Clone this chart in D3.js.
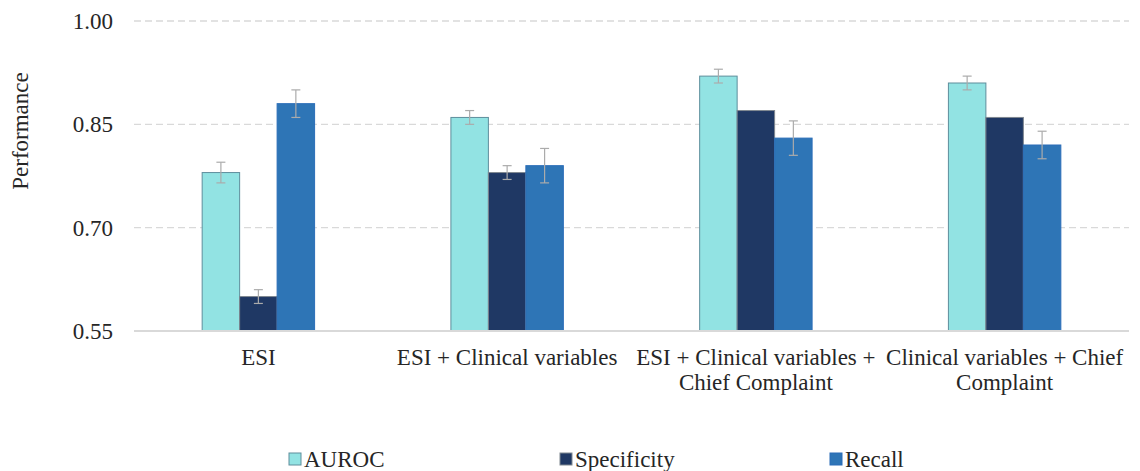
<!DOCTYPE html>
<html>
<head>
<meta charset="utf-8">
<script src="https://cdn.jsdelivr.net/npm/d3@7"></script>
<style>
  html, body { margin: 0; padding: 0; background: #ffffff; }
  svg { display: block; }
  svg text { font-family: "Liberation Serif", "Times New Roman", Tinos, "DejaVu Serif", serif; }
</style>
</head>
<body>
<svg id="chart" width="1140" height="471"></svg>
<script>
// Model feature sets
const categories = [
  "ESI",
  "ESI + Clinical variables",
  "ESI + Clinical variables + Chief Complaint",
  "Clinical variables + Chief Complaint"
];
// Wrapped label lines for each feature set
const categoryLines = [
  ["ESI"],
  ["ESI + Clinical variables"],
  ["ESI + Clinical variables +", "Chief Complaint"],
  ["Clinical variables + Chief", "Complaint"]
];

const seriesNames = ["AUROC", "Specificity", "Recall"];

// Metric values per feature set
const auroc       = [0.78, 0.86, 0.92, 0.91];
const specificity = [0.60, 0.78, 0.87, 0.86];
const recall      = [0.88, 0.79, 0.83, 0.82];

// Half-width of the error bars
const aurocErr       = [0.015, 0.010, 0.010, 0.010];
const specificityErr = [0.010, 0.010, 0.000, 0.000];
const recallErr      = [0.020, 0.025, 0.025, 0.020];

const yTicks = [0.55, 0.70, 0.85, 1.00];

const seriesValues = [auroc, specificity, recall];
const seriesErrors = [aurocErr, specificityErr, recallErr];
const fills   = ["#92E3E3", "#1F3864", "#2E75B6"];
const strokes = ["#5E8E9C", "#7F8790", "#2A6DB8"];

const FONT = "'Liberation Serif', 'Times New Roman', Tinos, 'DejaVu Serif', serif";
const FONT_SIZE = 23;

const svg = d3.select("#chart");

const x0 = d3.scaleBand()
  .domain(categories)
  .range([134, 1129])
  .paddingInner(0)
  .paddingOuter(0);

const groupWidth = x0.bandwidth() * 0.452;
const x1 = d3.scaleBand()
  .domain(seriesNames)
  .range([0, groupWidth])
  .padding(0);

const y = d3.scaleLinear()
  .domain([0.55, 1.00])
  .range([331, 21]);

// Dashed horizontal gridlines
svg.append("g")
  .selectAll("line")
  .data(yTicks.filter(t => t > 0.55))
  .join("line")
  .attr("x1", x0.range()[0])
  .attr("x2", x0.range()[1])
  .attr("y1", d => y(d))
  .attr("y2", d => y(d))
  .attr("stroke", "#D9D9D9")
  .attr("stroke-width", 1.3)
  .attr("stroke-dasharray", "7,4");

// Y-axis tick labels
const yAxis = d3.axisLeft(y)
  .tickValues(yTicks)
  .tickFormat(d3.format(".2f"))
  .tickSize(0)
  .tickPadding(0);

svg.append("g")
  .attr("transform", "translate(113,0)")
  .call(yAxis)
  .attr("font-family", FONT)
  .attr("font-size", FONT_SIZE)
  .call(g => g.select(".domain").remove())
  .call(g => g.selectAll("text")
    .attr("fill", "#262626"));

// Y-axis title
svg.append("text")
  .attr("transform", "translate(28,131) rotate(-90)")
  .attr("text-anchor", "middle")
  .attr("font-family", FONT)
  .attr("font-size", FONT_SIZE)
  .attr("fill", "#262626")
  .text("Performance");

// Bars
const groups = svg.append("g")
  .selectAll("g")
  .data(categories)
  .join("g")
  .attr("transform", d => `translate(${x0(d) + (x0.bandwidth() - groupWidth) / 2},0)`);

groups.each(function (cat, ci) {
  const g = d3.select(this);
  seriesNames.forEach((s, si) => {
    const v = seriesValues[si][ci];
    g.append("rect")
      .attr("x", x1(s))
      .attr("y", y(v))
      .attr("width", x1.bandwidth())
      .attr("height", y(0.55) - y(v))
      .attr("fill", fills[si])
      .attr("stroke", strokes[si])
      .attr("stroke-width", 1);
  });
});

// Error bars
groups.each(function (cat, ci) {
  const g = d3.select(this);
  seriesNames.forEach((s, si) => {
    const v = seriesValues[si][ci];
    const e = seriesErrors[si][ci];
    if (e <= 0) return;
    const cx = x1(s) + x1.bandwidth() / 2;
    const eg = g.append("g")
      .attr("stroke", "#ABABAB")
      .attr("stroke-width", 1.2);
    eg.append("line")
      .attr("x1", cx).attr("x2", cx)
      .attr("y1", y(v + e)).attr("y2", y(v - e));
    [v + e, v - e].forEach(t => {
      eg.append("line")
        .attr("x1", cx - 4.5).attr("x2", cx + 4.5)
        .attr("y1", y(t)).attr("y2", y(t));
    });
  });
});

// Baseline
svg.append("line")
  .attr("x1", x0.range()[0])
  .attr("x2", x0.range()[1])
  .attr("y1", y(0.55))
  .attr("y2", y(0.55))
  .attr("stroke", "#D9D9D9")
  .attr("stroke-width", 2);

// Category labels
const labels = svg.append("g")
  .selectAll("text")
  .data(categories)
  .join("text")
  .attr("text-anchor", "middle")
  .attr("font-family", FONT)
  .attr("font-size", FONT_SIZE)
  .attr("fill", "#262626")
  .attr("x", d => x0(d) + x0.bandwidth() / 2)
  .attr("y", 365);

labels.each(function (d, i) {
  const t = d3.select(this);
  categoryLines[i].forEach((line, li) => {
    t.append("tspan")
      .attr("x", x0(d) + x0.bandwidth() / 2)
      .attr("dy", li === 0 ? 0 : 25)
      .text(line);
  });
});

// Legend
const legendX = [289, 560, 830];
const legend = svg.append("g")
  .selectAll("g")
  .data(seriesNames)
  .join("g")
  .attr("transform", (d, i) => `translate(${legendX[i]},453)`);

legend.append("rect")
  .attr("width", 12)
  .attr("height", 12)
  .attr("fill", (d, i) => fills[i])
  .attr("stroke", (d, i) => strokes[i])
  .attr("stroke-width", 1);

legend.append("text")
  .attr("x", 15)
  .attr("y", 14)
  .attr("font-family", FONT)
  .attr("font-size", FONT_SIZE)
  .attr("fill", "#262626")
  .text(d => d);
</script>
</body>
</html>
